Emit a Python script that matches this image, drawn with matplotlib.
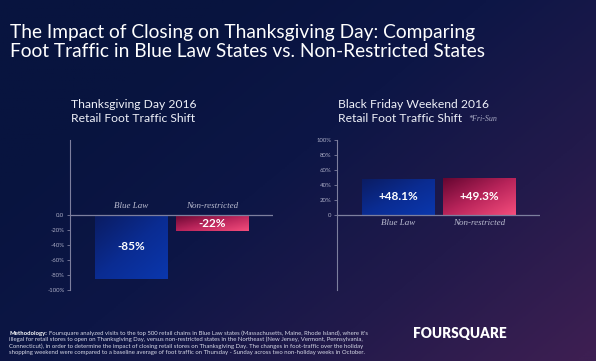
import numpy as np
import matplotlib
matplotlib.use("Agg")
import matplotlib.pyplot as plt
from matplotlib.colors import LinearSegmentedColormap

# data
categories = ['Blue Law', 'Non-restricted']
thanksgiving = [-85, -22]
black_friday = [48.1, 49.3]
thanksgiving_labels = ['-85%', '-22%']
black_friday_labels = ['+48.1%', '+49.3%']
left_ticks = [0, -20, -40, -60, -80, -100]
left_tick_labels = ['0.0', '-20%', '-40%', '-60%', '-80%', '-100%']
right_ticks = [0, 20, 40, 60, 80, 100]
right_tick_labels = ['0', '20%', '40%', '60%', '80%', '100%']

title = ("The Impact of Closing on Thanksgiving Day: Comparing\n"
         "Foot Traffic in Blue Law States vs. Non-Restricted States")
methodology = [
    "Foursquare analyzed visits to the top 500 retail chains in Blue Law states (Massachusetts, Maine, Rhode Island), where it's",
    "illegal for retail stores to open on Thanksgiving Day, versus non-restricted states in the Northeast (New Jersey, Vermont, Pennsylvania,",
    "Connecticut), in order to determine the impact of closing retail stores on Thanksgiving Day. The changes in foot-traffic over the holiday",
    "shopping weekend were compared to a baseline average of foot traffic on Thursday - Sunday across two non-holiday weeks in October.",
]

SANS = ['Lato', 'DejaVu Sans']
SERIF = ['Liberation Serif', 'DejaVu Serif']
AXIS_COLOR = '#7d7f9e'
TICK_COLOR = '#a9abc4'

blue_cmap = LinearSegmentedColormap.from_list('blue', ['#0a1c62', '#0b2c92', '#0a37ad'])
pink_cmap = LinearSegmentedColormap.from_list('pink', ['#660631', '#b8245a', '#f44d7c'])
bg_cmap = LinearSegmentedColormap.from_list('bg', ['#08143f', '#0d1646', '#221a4b', '#3d1f52'])

W, H = 596, 361
fig = plt.figure(figsize=(W / 100, H / 100), dpi=100)

# background gradient
bg = fig.add_axes([0, 0, 1, 1])
yy, xx = np.mgrid[0:1:200j, 0:1:300j]
grad = np.clip(0.75 * xx + 0.55 * yy - 0.28, 0, 1)
bg.imshow(grad, cmap=bg_cmap, aspect='auto', extent=[0, 1, 0, 1], origin='upper')
bg.set_axis_off()


def diag_gradient():
    yy, xx = np.mgrid[0:1:60j, 0:1:60j]
    return (xx + yy) / 2


def draw_panel(left_px, values, labels, ticks, tick_labels, cat_y, subtitle, note=None):
    ax = fig.add_axes([left_px / W, 1 - 290 / H, 203 / W, 150 / H])
    ax.patch.set_alpha(0)
    x = np.arange(len(categories))
    bars = ax.bar(x, values, width=0.9, color='none', zorder=2)
    for bar, cmap in zip(bars, [blue_cmap, pink_cmap]):
        bx, by = bar.get_x(), bar.get_y()
        bw, bh = bar.get_width(), bar.get_height()
        im = ax.imshow(diag_gradient(), cmap=cmap, aspect='auto', origin='upper',
                       extent=[bx, bx + bw, min(by, by + bh), max(by, by + bh)], zorder=2)
        im.set_clip_path(bar)
    ax.set_xlim(-0.76, 1.75)
    ax.set_ylim(-100, 100)
    ax.axhline(0, color=AXIS_COLOR, lw=0.9, zorder=3)
    for s in ['top', 'right', 'bottom']:
        ax.spines[s].set_visible(False)
    ax.spines['left'].set_color(AXIS_COLOR)
    ax.spines['left'].set_linewidth(0.8)
    ax.set_xticks([])
    ax.set_yticks(ticks)
    ax.set_yticklabels(tick_labels, family=SANS)
    ax.tick_params(axis='y', colors=AXIS_COLOR, labelcolor=TICK_COLOR, labelsize=4.3,
                   length=2.5, width=0.6, pad=1.5)
    for xi, v, lab in zip(x, values, labels):
        ax.text(xi, v / 2, lab, ha='center', va='center', color='white',
                fontsize=8.5, fontweight='bold', family=SANS, zorder=4)
    for xi, cat in zip(x, categories):
        ax.text(xi, cat_y, cat, ha='center', va='center', color='#b9bbcf',
                fontsize=6.5, style='italic', family=SERIF, zorder=4)
    fig.text((left_px + 1) / W, 1 - 104 / H, subtitle[0], color='#eef0f8',
             fontsize=8.7, family=SANS, va='center', ha='left')
    fig.text((left_px + 1) / W, 1 - 118 / H, subtitle[1], color='#eef0f8',
             fontsize=8.7, family=SANS, va='center', ha='left')
    if note:
        fig.text(468 / W, 1 - 119 / H, note, color='#a9abc4', fontsize=5.8,
                 style='italic', family=SERIF, va='center', ha='left')
    return ax


draw_panel(70, thanksgiving, thanksgiving_labels, left_ticks, left_tick_labels, 12,
           ['Thanksgiving Day 2016', 'Retail Foot Traffic Shift'])
draw_panel(337, black_friday, black_friday_labels, right_ticks, right_tick_labels, -11,
           ['Black Friday Weekend 2016', 'Retail Foot Traffic Shift'], note='*Fri-Sun')

fig.text(10 / W, 1 - 42 / H, title, color='white', fontsize=13.8, family=SANS,
         va='center', ha='left', linespacing=1.12)

# methodology block: bold lead-in, rest placed right after it
fig.canvas.draw()
renderer = fig.canvas.get_renderer()
for i, line in enumerate(methodology):
    y = 1 - (333 + i * 6.4) / H
    if i == 0:
        lead = fig.text(9 / W, y, 'Methodology:', color='white', fontsize=4.3,
                        fontweight='bold', family=SANS, va='center', ha='left')
        end_px = lead.get_window_extent(renderer).x1
        fig.text((end_px + 2) / W, y, line, color='#d6d8e6', fontsize=4.3, family=SANS,
                 va='center', ha='left')
    else:
        fig.text(9 / W, y, line, color='#d6d8e6', fontsize=4.3, family=SANS,
                 va='center', ha='left')

fig.text(459.5 / W, 1 - 334 / H, 'FOURSQUARE', color='white', fontsize=9.8,
         fontweight='heavy', family=SANS, va='center', ha='center')

fig.savefig('out.png', dpi=100)
